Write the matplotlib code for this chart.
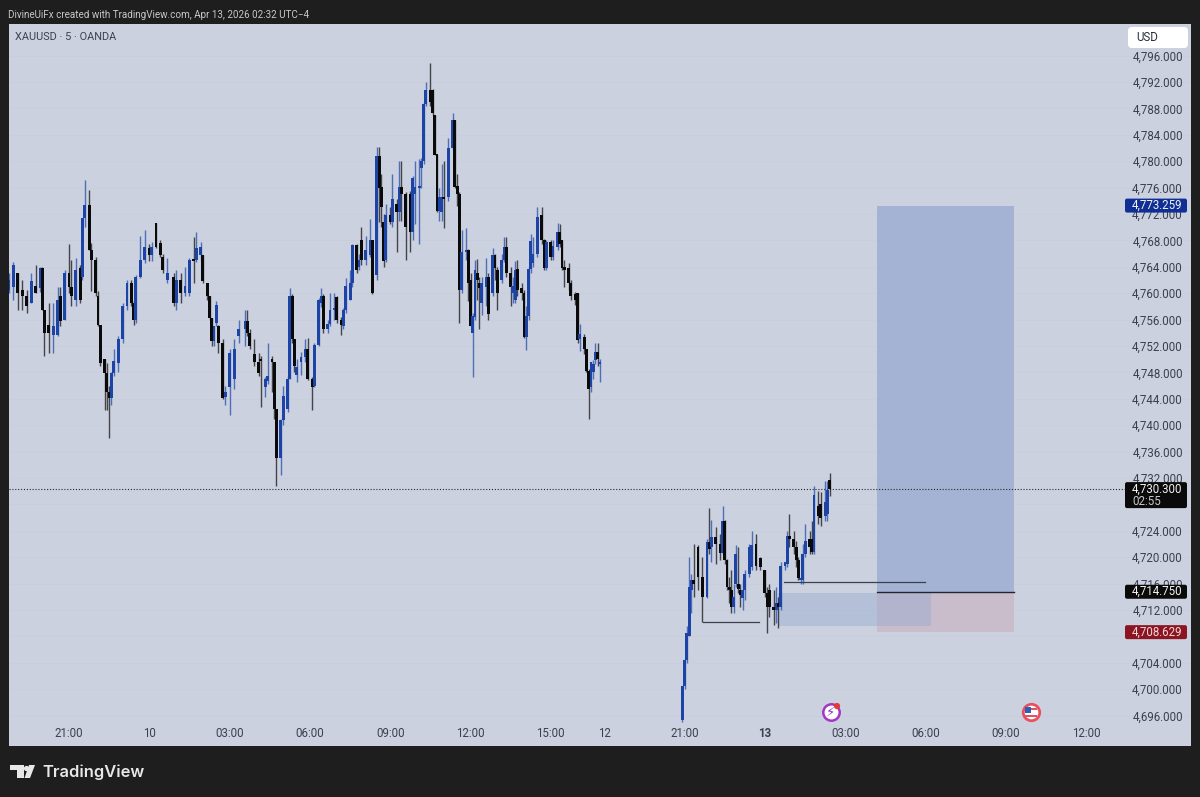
import matplotlib
matplotlib.use("Agg")
import matplotlib.pyplot as plt
from matplotlib.patches import Rectangle, Polygon, FancyBboxPatch
from matplotlib.transforms import IdentityTransform

# ---------- data ----------
bars = [-27,-25,-23,-21,-19,-17,-15,-13,-12,-11,-9,-7,-5,-4,-2,0,1,3,5,6,
 7,9,10,12,13,14,16,17,18,19,20,22,24,26,28,29,30,32,34,36,
 37,39,41,42,44,47,48,50,52,54,56,57,59,60,62,63,64,65,66,67,
 69,70,72,74,76,79,80,81,83,85,86,88,89,91,92,93,95,96,98,99,
 100,101,102,104,106,107,109,110,112,113,114,116,117,119,120,122,123,124,126,127,
 129,130,131,133,135,136,138,139,140,141,142,144,145,147,148,149,151,153,154,155,
 157,158,159,160,162,163,164,165,166,167,168,170,172,173,174,175,176,178,179,180,
 181,182,183,184,185,187,188,190,191,192,194,195,196,198,199,200,201,203,204,205,
 206,207,208,210,212,213,214,216,217,219,220,221,222,224,225,227,228,229,231,232,
 233,234,235,236,237,238]
opens = [4760.5,4761,4763,4760.5,4759.5,4758.5,4761,4760.7,4763.8,4757.5,4755.2,4753.7,4753.7,4759.5,4756,4763,4761,4759,4763.8,4762.5,
 4771.4,4773.4,4766.5,4765,4759.5,4755.2,4750,4747.9,4745,4744.1,4747.9,4749.4,4753,4758,4761.5,4758.5,4756,4762.5,4765,4766.8,
 4765.8,4770.6,4767.6,4765.5,4762,4762.5,4758.5,4762,4760,4760,4765.2,4765,4765.8,4765.8,4761.5,4759.5,4756.2,4752.7,4755.5,4755,
 4752.4,4744.2,4745.8,4747,4753.5,4754.5,4755.8,4754,4750.8,4749.6,4750,4745.8,4746.7,4750,4749.5,4742.5,4735,4740.8,4742.5,4747,
 4759.5,4753,4747.6,4749.6,4750.3,4751.5,4747,4746,4752.2,4758.5,4759.5,4754.5,4755.3,4757.5,4759.4,4756,4755,4757.4,4759,4761.5,
 4767.3,4764,4768,4765,4765.8,4768,4762.8,4780.7,4776,4770.8,4765,4771.8,4770.8,4773.5,4772.3,4776,4775,4775,4769.3,4775,
 4776,4779,4780,4788.7,4790.8,4790.8,4787,4781,4772.5,4772.3,4774.6,4774.5,4782,4786.2,4776.2,4775,4760.5,4766.3,4766.5,4762,
 4754,4756.4,4763,4761.5,4758.5,4761,4762.5,4760,4765.7,4763.5,4762,4765,4767,4763,4760,4759,4763.7,4760.8,4760,4753.4,
 4756.5,4763.7,4764.5,4766,4771.9,4768,4763.8,4767.8,4765.5,4767,4769.3,4768,4764,4763.8,4761.5,4759.8,4760,4753,4753.4,4751.5,
 4748.2,4745.7,4748,4749.8,4751,4749.3]
highs = [4763,4764.7,4763,4762,4760.5,4763,4764.3,4764,4764,4757.5,4758.5,4758.5,4761,4761,4763.5,4767.5,4765,4765.3,4764.3,4771.4,
 4777.2,4775.6,4767.6,4765.5,4760.3,4755.2,4750,4749.4,4746,4748,4751.5,4753.5,4758.5,4762,4762,4759,4762.8,4768.6,4769.6,4767.5,
 4767.7,4770.6,4768,4766,4765.3,4763,4763.5,4763,4764,4765.3,4768.5,4769.3,4767.7,4765.8,4761.5,4759.5,4756.2,4755,4758.8,4755.2,
 4753,4746,4751.5,4753,4756,4757.5,4757.5,4754.5,4753,4751,4750.5,4747.3,4752.5,4750.5,4749.5,4742.5,4741,4746,4747.5,4760.8,
 4759.8,4753,4750,4751.1,4753,4753.2,4747.3,4752.5,4759.2,4760.7,4759.8,4756,4760,4760,4759.6,4756.4,4757.8,4762.3,4763.5,4767.5,
 4767.5,4766,4770,4768.7,4771.2,4768,4782.2,4782.2,4778,4772,4773.5,4773,4778,4774.3,4780,4780,4775.3,4775.5,4777.8,4780,
 4780.3,4780.5,4789,4792,4794.8,4791,4787,4781,4776,4779.5,4780,4783.5,4787.3,4786.2,4778,4775.3,4769.5,4769.8,4766.7,4763,
 4757,4765,4765.2,4762.5,4762.5,4765.3,4763,4766.8,4766,4764,4766,4768.5,4768.5,4764,4762.5,4764.8,4765,4761.5,4760.5,4758,
 4764,4769,4768.5,4773,4773,4768.2,4768,4768,4768,4770.6,4770.5,4768,4765,4764.5,4762,4760.2,4760,4755.3,4753.8,4751.5,
 4748.5,4749.5,4749.8,4752.5,4752.5,4750]
lows = [4760,4759,4757.5,4757.5,4757,4758.5,4760,4760.2,4757.5,4750.5,4751,4751,4753.5,4755,4756,4760,4758,4758,4758.5,4762,
 4770,4766.5,4760.3,4759.5,4755,4749,4742.3,4742.3,4738,4743,4747.5,4748,4752.5,4757.5,4758,4755.2,4755.5,4762.3,4764.5,4764.8,
 4764.8,4766.8,4765.5,4763,4761.5,4758,4757.5,4758.5,4759.5,4759.5,4761.5,4764.7,4765,4761.5,4759,4756,4752,4752,4755,4751,
 4744,4743,4741.5,4745.5,4752.5,4752,4753.5,4751.5,4749,4747.5,4742.8,4744.3,4746.3,4745,4741,4730.7,4732.5,4740,4742,4747,
 4752.5,4748,4746.5,4747.6,4749.5,4746.8,4742.3,4745.8,4752,4757.9,4754,4754,4755,4756,4755.5,4753.6,4754.5,4757,4758.9,4761,
 4763,4763.5,4764.2,4764.3,4765.5,4759.8,4762,4770.8,4770,4764,4764.7,4770.5,4770,4766.2,4771,4771,4765,4766.2,4768,4770.5,
 4767.5,4776,4779.5,4788.3,4788.3,4787,4780.9,4772.3,4771,4771,4769.8,4774,4781.8,4776,4773.2,4755.4,4760,4765,4758.8,4755,
 4747.3,4756,4759,4754.5,4756.7,4758,4756,4759.5,4762,4757.5,4761.5,4764.7,4762.5,4758,4758.5,4758.5,4759.5,4759,4753.2,4751.4,
 4756,4763,4764,4765.5,4767.5,4763.5,4763.5,4765,4765,4766.5,4767,4763.5,4761,4760.5,4759,4758.2,4752.5,4751.2,4750.8,4748,
 4741,4745,4747,4749.3,4749,4746.5]
closes = [4762,4764.3,4760,4759.5,4758,4761.8,4760,4763.8,4757.5,4754,4754,4755,4759,4755.7,4763,4761,4759.5,4763.5,4759,4771.4,
 4773.4,4766.5,4765,4760,4755.2,4749.4,4747.9,4745,4744.1,4747.9,4749.7,4753,4758,4761.5,4758.5,4756,4762.5,4765,4767,4765.8,
 4767,4767,4765.8,4763.5,4763,4758.5,4762,4760,4761,4765,4764.8,4766.8,4767,4761.8,4759.5,4756.2,4752.7,4755,4758.2,4752.4,
 4744.1,4745,4751,4751.5,4754.5,4755.8,4754,4752,4749.6,4747.9,4749.7,4747,4747.5,4749.5,4742.5,4735,4740.8,4744.4,4747,4759.5,
 4753,4749,4748.8,4750.3,4751.5,4747,4745.8,4752.2,4758.9,4759.5,4754.5,4755.3,4757.5,4757.5,4756,4755.2,4757.4,4761,4761.5,4767.3,
 4763.5,4765,4765,4766.5,4768,4760,4780.7,4776,4773,4764.8,4771.8,4770.8,4774.2,4772.3,4776,4775,4770,4769.3,4777.5,4776,
 4776.2,4780,4788.7,4790.7,4789,4787.3,4781,4772.5,4774.6,4774.6,4774.3,4782,4786.2,4776.1,4775,4760.5,4766.3,4766.5,4761.5,4755,
 4756.5,4763.5,4762,4760.8,4761.5,4762.5,4756.8,4765.7,4763.8,4760,4765,4767,4763,4761,4761,4763.5,4760.5,4760,4753.4,4756.5,
 4763.7,4767.9,4766,4771.6,4768,4763.8,4767.8,4765.5,4767.2,4769.3,4767.5,4763.8,4763.5,4761.5,4759.5,4759,4752.9,4753.8,4751.5,4748.2,
 4745.5,4749.5,4749.3,4751,4750,4749.5]

bars2 = [275,276,277,278,279,280,282,284,286,287,288,290,292,293,294,295,296,297,298,299,
 300,301,302,303,305,306,308,310,312,313,314,316,317,318,319,321,322,323,325,326,
 327,328,329,330,332,333,334,336,337,339,340,341]
opens2 = [4695.3,4700.4,4704.4,4708,4715,4716.5,4721.5,4717,4714,4722.3,4721.5,4723,4722,4720.6,4725.5,4719.5,4715.5,4715,4712.4,4716,
 4716,4715,4713.8,4715,4717.5,4718.5,4722,4719.8,4718,4714.5,4715,4712.5,4712,4713,4712.5,4718.6,4719,4723.2,4722.8,4721.5,
 4719.5,4716.5,4716.5,4720.5,4722.8,4722.8,4720.7,4727.8,4728,4726.2,4726.5,4731.7]
highs2 = [4700.5,4704.6,4709.5,4720,4717.5,4722,4721.8,4720,4722.8,4727.5,4725.6,4724.5,4723.5,4727.8,4725.6,4719.7,4717,4718,4716,4721.8,
 4721.5,4716,4716.5,4718,4722,4724,4723.5,4720,4718,4715.5,4716,4715,4715.5,4714,4719.3,4719.3,4724,4726.5,4724,4722.5,
 4720,4717,4722,4725,4724,4725.5,4730.7,4730,4729.8,4731.6,4731.5,4732.7]
lows2 = [4695,4700,4704,4708,4711.5,4714,4715,4710.2,4713.8,4720.5,4719.2,4719,4719.5,4720.5,4719,4715,4713,4711.5,4711.5,4715.5,
 4714.5,4712.5,4712,4713.5,4717,4718,4718,4718,4714,4708.5,4711,4709.7,4710,4709.3,4712,4718,4718.5,4721.5,4720.5,4718.5,
 4716.5,4716,4716,4720,4720.5,4720.5,4720.5,4725,4724.7,4725.5,4725.5,4729.3]
closes2 = [4700.4,4704.4,4708.5,4715.5,4716.5,4716,4717,4714,4722.3,4721.3,4723,4722,4720.6,4725.5,4719.5,4715.5,4715,4712.4,4714,4720.5,
 4715.2,4714.3,4715,4717.5,4721.5,4721.8,4718.6,4718.5,4714.5,4712.5,4712.5,4712,4713,4712.5,4718.6,4719.3,4723.2,4722.8,4721.5,4719.5,
 4716.8,4716.6,4720.5,4722.5,4721.5,4720.7,4729.4,4726.2,4726,4728.3,4730.2,4730.3]

y_ticks = list(range(4696, 4797, 4))
hidden_y_labels = [4708, 4728]  # fully covered by price tags in the reference
x_tick_bars = [0, 36, 72, 108, 144, 180, 216, 240, 276, 312, 348, 384, 420, 456]
x_tick_labels = ["21:00", "10", "03:00", "06:00", "09:00", "12:00", "15:00", "12",
                 "21:00", "13", "03:00", "06:00", "09:00", "12:00"]

last_price = 4730.300
target_price = 4773.259
entry_price = 4714.750
stop_price = 4708.629
tool_bars = [362.2, 423.6]
zone_bars = [317.8, 386.4]
zone_prices = [4709.6, 4714.6]
swing_high = ([320.5, 383.7], 4716.2)
swing_low = ([284.2, 309.3], 4710.2)

# ---------- layout ----------
W, H = 1200, 797
PANE_L, PANE_R, PANE_T, PANE_B = 9, 1191, 24, 746
BG = "#1e1e1e"
PANE = "#cbd1df"
BLUE = "#1c43a6"
BLACK = "#0a0a0a"
TXT = "#3b4050"
FS = 8.3

def x_of(px):
    return (px - 69) / 2.2306

def y_of(py):
    return 4796 - (py - 55.5) / 6.6

plt.rcParams["font.family"] = ["Roboto", "DejaVu Sans"]
fig = plt.figure(figsize=(W / 100, H / 100), dpi=100, facecolor=BG)
ax = fig.add_axes([PANE_L / W, 1 - PANE_B / H, (PANE_R - PANE_L) / W, (PANE_B - PANE_T) / H])
ax.set_facecolor(PANE)
ax.set_xlim(x_of(PANE_L), x_of(PANE_R))
ax.set_ylim(y_of(PANE_B), y_of(PANE_T))
for s in ax.spines.values():
    s.set_visible(False)

ax.set_yticks(y_ticks)
ax.set_yticklabels(["" if v in hidden_y_labels else f"{v:,.3f}" for v in y_ticks], fontsize=FS, color=TXT)
ax.yaxis.tick_right()
ax.tick_params(axis="y", length=0, pad=-5.8)
for t in ax.get_yticklabels():
    t.set_ha("right")
ax.set_xticks(x_tick_bars)
ax.set_xticklabels(x_tick_labels, fontsize=FS, color=TXT)
ax.tick_params(axis="x", length=0, pad=-4.3)
for t in ax.get_xticklabels():
    t.set_va("bottom")
    if t.get_text() == "13":
        t.set_fontweight("bold")
ax.grid(axis="y", color="#c7cddb", lw=0.5, zorder=0)
ax.set_axisbelow(True)

# position tool and zones
ax.add_patch(Rectangle((tool_bars[0], entry_price), tool_bars[1] - tool_bars[0], target_price - entry_price,
                       fc="#a4b2d3", ec="none", zorder=1.2))
ax.add_patch(Rectangle((tool_bars[0], stop_price), tool_bars[1] - tool_bars[0], entry_price - stop_price,
                       fc="#c9bdcb", ec="none", zorder=1.2))
ax.add_patch(Rectangle((zone_bars[0], zone_prices[0]), zone_bars[1] - zone_bars[0], zone_prices[1] - zone_prices[0],
                       fc="#8fa3cf", ec="none", alpha=0.38, zorder=1.3))
ax.plot(tool_bars, [entry_price, entry_price], color="#22252e", lw=1.0, zorder=1.5)
ax.plot(swing_high[0], [swing_high[1]] * 2, color="#3c404c", lw=0.9, zorder=1.5)
ax.plot(swing_low[0], [swing_low[1]] * 2, color="#3c404c", lw=0.9, zorder=1.5)

# last price line
ax.axhline(last_price, xmax=(1125 - PANE_L) / (PANE_R - PANE_L), color="#2a2a2a", lw=0.8, ls=(0, (1, 1.6)), zorder=1.6)

# candles
for xs, os_, hs, ls, cs in [(bars, opens, highs, lows, closes), (bars2, opens2, highs2, lows2, closes2)]:
    assert len(xs) == len(os_) == len(hs) == len(ls) == len(cs), (len(xs), len(os_), len(hs), len(ls), len(cs))
    cols = [BLUE if c >= o else BLACK for o, c in zip(os_, cs)]
    ax.vlines(xs, ls, hs, colors=cols, lw=1.0, alpha=0.7, zorder=2)
    ax.bar(xs, [max(abs(c - o), 0.3) for o, c in zip(os_, cs)], bottom=[min(o, c) for o, c in zip(os_, cs)],
           width=1.3, color=cols, lw=0, zorder=2.2)

# rounded boxes in pixel coordinates
def box(x0, y0, x1, y1, fc, r=2):
    ax.add_patch(FancyBboxPatch((x0, H - y1), x1 - x0, y1 - y0, boxstyle=f"round,pad=0,rounding_size={r}",
                                fc=fc, ec="none", transform=IdentityTransform(), zorder=6, clip_on=False))

def tag(price, fc, text, fg="#f2f2f2", top=7, bot=7, sub=None):
    py = 55.5 + (4796 - price) * 6.6
    box(1125, py - top, 1187, py + bot, fc)
    ax.text(x_of(1182), price, text, color=fg, fontsize=FS, ha="right", va="center", zorder=7)
    if sub:
        ax.text(x_of(1132), y_of(py + 12.5), sub, color="#c8c8c8", fontsize=FS, ha="left", va="center", zorder=7)

tag(target_price, "#0f2f94", f"{target_price:,.3f}")
tag(last_price, "#0a0a0a", f"{last_price:,.3f}", bot=19, sub="02:55")
tag(entry_price, "#0a0a0a", f"{entry_price:,.3f}")
tag(stop_price, "#8b1622", f"{stop_price:,.3f}", fg="#f3d6d9")

# currency box
box(1128, 27, 1188, 48, "white", r=4)
ax.text(x_of(1136), y_of(37.5), "USD", color="#2a2e39", fontsize=FS, ha="left", va="center", zorder=7)

# event icons
fx, fy = x_of(831), y_of(712)
ax.scatter([fx], [fy], s=140, fc="white", ec="#a237c4", lw=1.8, zorder=5)
ax.text(fx, fy, "\u26a1", color="#8e2fc0", fontsize=9.5, ha="center", va="center", zorder=6, family="DejaVu Sans")
ax.scatter([x_of(837)], [y_of(706)], s=20, fc="#e53935", ec="none", zorder=7)
ux, uy = x_of(1031), y_of(712)
ax.scatter([ux], [uy], s=140, fc="white", ec="#e8505b", lw=2.0, zorder=5)
ax.add_patch(Rectangle((x_of(1025), y_of(713)), x_of(1031) - x_of(1025), 6 / 6.6, fc="#2f5fb5", ec="none", zorder=6))
ax.add_patch(Rectangle((x_of(1031), y_of(710)), x_of(1037) - x_of(1031), 2 / 6.6, fc="#e8505b", ec="none", zorder=6))
ax.add_patch(Rectangle((x_of(1025), y_of(717)), x_of(1037) - x_of(1025), 2 / 6.6, fc="#e8505b", ec="none", zorder=6))

# header text
fig.text(8 / W, 1 - 15 / H, "DivineUiFx created with TradingView.com, Apr 13, 2026 02:32 UTC\u22124",
         color="#c8c8c8", fontsize=7.1, ha="left", va="center")
ax.text(x_of(15), y_of(37.5), "XAUUSD \u00b7 5 \u00b7 OANDA", color=TXT, fontsize=7.8, ha="left", va="center", zorder=7)

# TradingView logo
def fp(px, py):
    return (px / W, 1 - py / H)

LOGO = "#e8e8e8"
fig.add_artist(Polygon([fp(10, 765), fp(24, 765), fp(24, 778), fp(17, 778), fp(17, 770), fp(10, 770)],
                       closed=True, fc=LOGO, ec="none", transform=fig.transFigure))
fig.add_artist(Polygon([fp(29, 765), fp(35, 765), fp(30, 778), fp(24.5, 778)],
                       closed=True, fc=LOGO, ec="none", transform=fig.transFigure))
fig.add_artist(plt.Line2D([26.3 / W], [1 - 767.5 / H], marker="o", ms=3.8, color=LOGO, mew=0, transform=fig.transFigure))
fig.text(42 / W, 1 - 772 / H, "TradingView", color=LOGO, fontsize=11.9, fontweight="semibold",
         family=["Inter", "DejaVu Sans"], ha="left", va="center")

fig.savefig("out.png", dpi=100, facecolor=BG)
